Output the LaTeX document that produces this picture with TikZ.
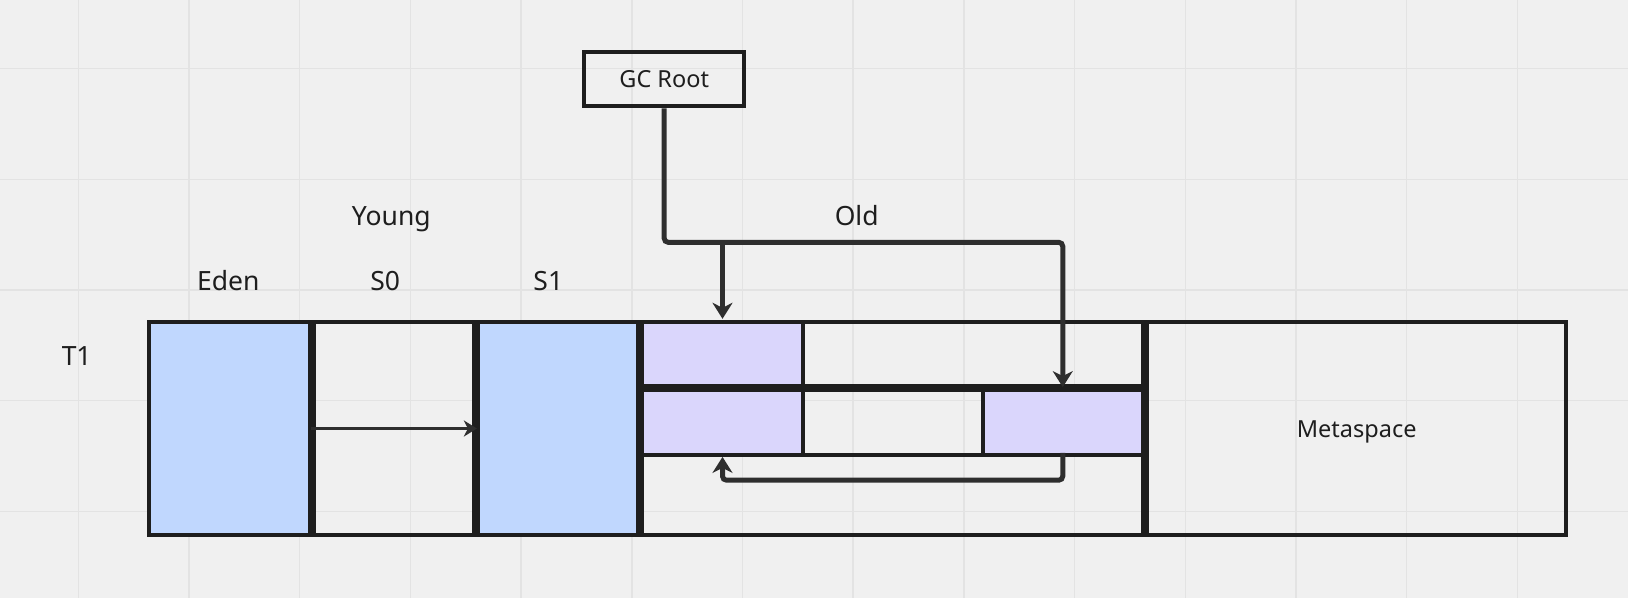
\documentclass[tikz,border=0pt]{standalone}
\usepackage{fontspec}
\setmainfont{Noto Sans}
\usetikzlibrary{arrows.meta}
\definecolor{bg}{HTML}{F0F0F0}
\definecolor{gridc}{HTML}{E3E3E3}
\definecolor{ink}{HTML}{1E1E1E}
\definecolor{ink2}{HTML}{2E2E2E}
\definecolor{young}{HTML}{C0D7FE}
\definecolor{oldc}{HTML}{DAD6FC}
\begin{document}
\begin{tikzpicture}[x=1pt, y=-1pt,
    cell/.style={inner sep=0pt, minimum width=156.5pt},
    txt/.style={anchor=base, text=ink, font=\fontsize{26.5}{30}\selectfont},
    wall/.style={draw=ink, line width=4pt},
    link/.style={draw=ink2, line width=5pt, rounded corners=4pt, -{Stealth[length=16pt, width=20pt, inset=5pt]}},
    flow/.style={draw=ink2, line width=3.5pt, -{Stealth[length=13pt, width=16pt, inset=4pt]}}]
    \useasboundingbox (0,0) rectangle (1628,598);

    % 背景とグリッド
    \fill[bg] (0,0) rectangle (1628,598);
    \foreach \i in {0,...,13}
        \draw[gridc, line width=1.5pt] ({78.3+110.7*\i},0) -- ++(0,598);
    \foreach \j in {0,...,4}
        \draw[gridc, line width=1.5pt] (0,{68.6+110.7*\j}) -- ++(1628,0);

    % 領域
    \node[cell, fill=young, minimum height=210pt] (Eden) at (229.25, 428.5) {};
    \node[cell, minimum height=210pt] (S0) at (393.75, 428.5) {};
    \node[cell, fill=young, minimum width=156pt, minimum height=210pt] (S1) at (558, 428.5) {};
    \node[cell, fill=oldc, minimum width=157pt, minimum height=60.5pt] (A) at (722.5, 353.75) {};
    \node[cell, fill=oldc, minimum width=157pt, minimum height=60.4pt] (B) at (722.5, 422.5) {};
    \node[cell, fill=oldc, minimum height=60.4pt] (C) at (1062.75, 422.5) {};
    \node[inner sep=0pt, minimum width=415pt, minimum height=210pt, text=ink,
          font=\fontsize{23.5}{26}\selectfont, text height=16.8pt, text depth=0pt] (Meta) at (1356.7, 429) {Metaspace};

    % 線を描く
    \draw[wall] (149, 321.7) rectangle (1566.3, 535.3);
    \foreach \x in {311.5, 476, 640, 1145}
        \draw[wall, line width=8pt] (\x, 321.7) -- (\x, 535.3);
    \draw[wall, line width=8pt] (640, 388) -- (1145, 388);
    \draw[wall] (640, 454.7) -- (1145, 454.7);
    \draw[wall] (803, 321.7) -- (803, 454.7);
    \draw[wall] (982.7, 388) -- (982.7, 454.7);

    % ラベル
    \node[txt] (lYoung) at (391.3, 225) {Young};
    \node[txt] (lOld) at (856.7, 225) {Old};
    \node[txt] (lEden) at (228.3, 290.7) {Eden};
    \node[txt] (lS0) at (385.3, 290.7) {S0};
    \node[txt] (lS1) at (548.3, 290.7) {S1};
    \node[txt] (lT1) at (76.7, 365) {T1};

    \node[draw=ink, line width=4pt, inner sep=0pt, minimum width=159.7pt, minimum height=54.7pt,
          text=ink, font=\fontsize{23.5}{26}\selectfont, text height=16.8pt, text depth=0pt] (Root) at (664.2, 79) {GC Root};

    % 矢印
    \coordinate (Fork) at (722.5, 242.3);
    \draw[link, shorten >=5pt] (Root.south) |- (Fork) -| (C.north);
    \draw[link, shorten >=4.5pt] (Fork) -- (A.north);
    \draw[link, shorten >=4pt] (C.south) -- ++(0, 27.3) -| (B.south);
    \draw[flow, shorten <=-4pt, shorten >=-4.7pt] (S0.west) -- (S0.east);

\end{tikzpicture}
\end{document}
